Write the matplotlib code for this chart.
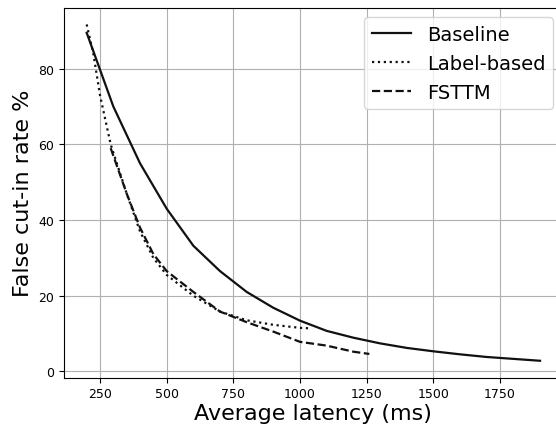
import matplotlib
matplotlib.use("Agg")
import matplotlib.pyplot as plt

baseline_x = [200, 300, 400, 500, 600, 700, 800, 900, 1000, 1100, 1200, 1300, 1400, 1500, 1600, 1700, 1800, 1900]
baseline_y = [89.5, 70, 55, 43, 33.2, 26.5, 21, 16.8, 13.4, 10.7, 8.9, 7.4, 6.2, 5.3, 4.5, 3.8, 3.3, 2.8]

label_x = [200, 225, 250, 290, 350, 400, 450, 500, 600, 700, 800, 900, 1000, 1030]
label_y = [91.7, 84, 73, 60, 47, 37, 30, 25.5, 20, 15.8, 13.5, 12.3, 11.5, 11.4]

fsttm_x = [290, 350, 400, 450, 500, 600, 700, 800, 900, 1000, 1100, 1150, 1200, 1260]
fsttm_y = [59, 47, 38, 31, 26.5, 21, 15.8, 13, 10.5, 7.8, 6.8, 6.0, 5.2, 4.6]

W, H = 556, 431
fig = plt.figure(figsize=(W / 100, H / 100), dpi=100)
ax = fig.add_axes([64 / W, (H - 378.6) / H, 498.7 / W, 370 / H])

ax.plot(baseline_x, baseline_y, color="#111111", linestyle="-", linewidth=1.6, label="Baseline")
ax.plot(label_x, label_y, color="#111111", linestyle=":", linewidth=1.6, label="Label-based")
ax.plot(fsttm_x, fsttm_y, color="#111111", linestyle="--", linewidth=1.6, label="FSTTM")

ax.set_xlim(115, 1985)
ax.set_ylim(-1.65, 96.15)
ax.set_xticks([250, 500, 750, 1000, 1250, 1500, 1750])
ax.set_yticks([0, 20, 40, 60, 80])
ax.tick_params(labelsize=9)
ax.grid(True, color="#b0b0b0", linewidth=0.8)
ax.set_axisbelow(True)
ax.spines["right"].set_visible(False)

ax.set_xlabel("Average latency (ms)", fontsize=16, labelpad=2)
ax.set_ylabel("False cut-in rate %", fontsize=16)
ax.legend(loc="upper right", fontsize=14)

fig.savefig("out.png", dpi=100)
